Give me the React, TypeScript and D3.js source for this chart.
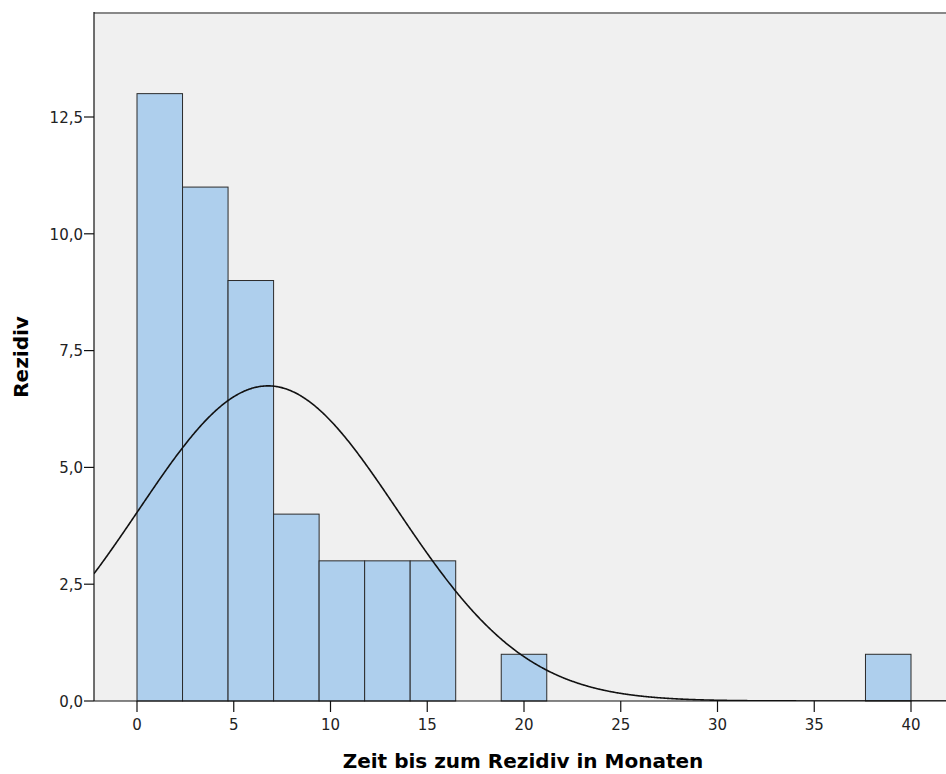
import React from 'react';
import * as d3 from 'd3';

// histogram bins: 17 bins of equal width between 0 and 40
const binStart = 0;
const binEnd = 40;
const counts = [13, 11, 9, 4, 3, 3, 3, 0, 1, 0, 0, 0, 0, 0, 0, 0, 1];

// fitted normal curve
const curveMean = 6.77;
const curveSd = 6.68;

const xTicks = [0, 5, 10, 15, 20, 25, 30, 35, 40];
const yTicks = [0, 2.5, 5, 7.5, 10, 12.5];

const W = 946;
const H = 774;
const left = 94;
const top = 13;
const bottom = 701;

const fmt = (v: number) => v.toFixed(1).replace('.', ',');

export default function App() {
  const x = d3.scaleLinear().domain([0, 40]).range([137, 911]);
  const y = d3.scaleLinear().domain([0, 12.5]).range([bottom, 117]);

  const binW = (binEnd - binStart) / counts.length;
  const total = d3.sum(counts);

  const xMin = x.invert(left);
  const xMax = x.invert(W + 20);
  const curvePts = d3.range(xMin, xMax, 0.05).map((v) => {
    const z = (v - curveMean) / curveSd;
    const dens = Math.exp(-0.5 * z * z) / (curveSd * Math.sqrt(2 * Math.PI));
    return [v, dens * total * binW] as [number, number];
  });
  const line = d3
    .line<[number, number]>()
    .x((d) => x(d[0]))
    .y((d) => y(d[1]))
    .curve(d3.curveBasis);

  const font = 'DejaVu Sans, Verdana, sans-serif';

  return (
    <svg width={W} height={H} style={{ position: 'absolute', left: 0, top: 0 }}>
      <defs>
        <clipPath id="plot">
          <rect x={left} y={top} width={W - left + 10} height={bottom - top} />
        </clipPath>
      </defs>
      <rect x={left} y={top} width={W - left + 10} height={bottom - top} fill="#f0f0f0" />

      {counts.map((c, i) =>
        c > 0 ? (
          <rect
            key={i}
            x={x(binStart + i * binW)}
            y={y(c)}
            width={x(binStart + (i + 1) * binW) - x(binStart + i * binW)}
            height={bottom - y(c)}
            fill="#aecfed"
            stroke="#2b2b2b"
            strokeWidth={1}
          />
        ) : null
      )}

      <path d={line(curvePts) || ''} fill="none" stroke="#111" strokeWidth={1.6} clipPath="url(#plot)" />

      {/* top border */}
      <line x1={left} x2={W} y1={top} y2={top} stroke="#888" strokeWidth={2} />
      {/* axes */}
      <line x1={left} x2={left} y1={top - 1} y2={bottom} stroke="#111" strokeWidth={1.2} />
      <line x1={left} x2={W} y1={bottom} y2={bottom} stroke="#111" strokeWidth={1.2} />

      {yTicks.map((t) => (
        <g key={t}>
          <line x1={left - 10} x2={left} y1={y(t)} y2={y(t)} stroke="#111" strokeWidth={1.2} />
          <text
            x={left - 11}
            y={y(t)}
            dy="0.38em"
            textAnchor="end"
            fontFamily={font}
            fontSize={15}
            fill="#222"
          >
            {fmt(t)}
          </text>
        </g>
      ))}

      {xTicks.map((t) => (
        <g key={t}>
          <line x1={x(t)} x2={x(t)} y1={bottom} y2={bottom + 11} stroke="#111" strokeWidth={1.2} />
          <text x={x(t)} y={730} textAnchor="middle" fontFamily={font} fontSize={15} fill="#222">
            {t}
          </text>
        </g>
      ))}

      <text
        x={523}
        y={768}
        textAnchor="middle"
        fontFamily={font}
        fontSize={20}
        fontWeight="bold"
        fill="#000"
      >
        Zeit bis zum Rezidiv in Monaten
      </text>
      <text
        transform="translate(28,357) rotate(-90)"
        textAnchor="middle"
        fontFamily={font}
        fontSize={20}
        fontWeight="bold"
        fill="#000"
      >
        Rezidiv
      </text>
    </svg>
  );
}
